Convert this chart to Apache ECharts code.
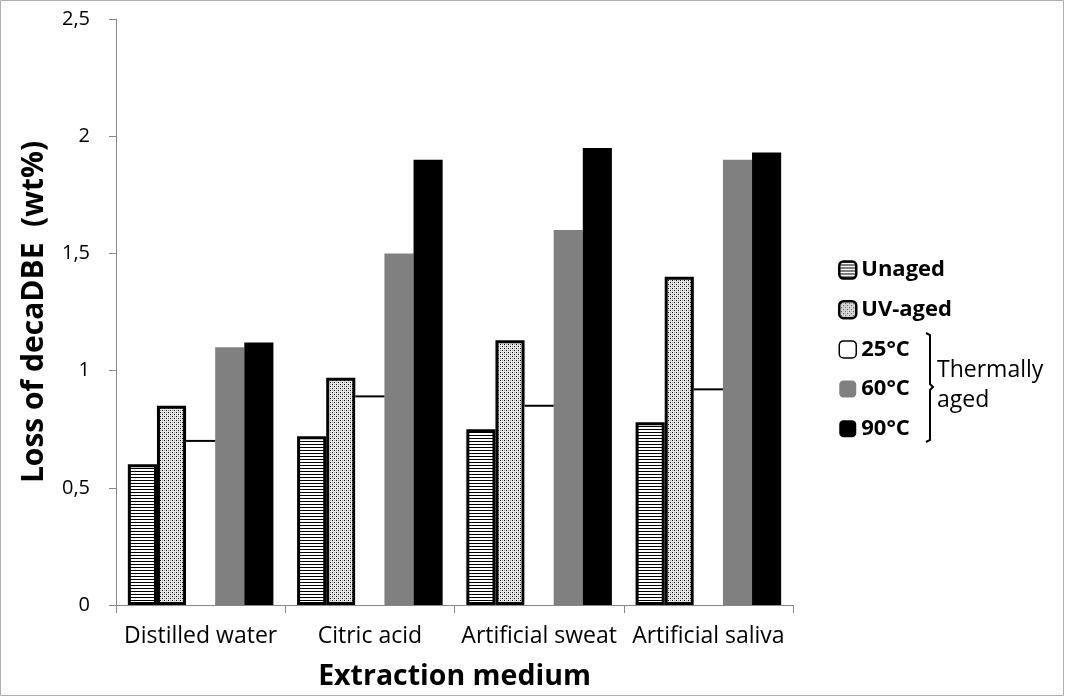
<!DOCTYPE html>
<html><head><meta charset="utf-8">
<script src="https://cdn.jsdelivr.net/npm/echarts@6/dist/echarts.min.js"></script>
<style>html,body{margin:0;padding:0;background:#fff}#c{width:1065px;height:697px}</style>
</head><body><div id="c"></div>
<script>
const categories = ['Distilled water', 'Citric acid', 'Artificial sweat', 'Artificial saliva'];
const unaged = [0.60, 0.72, 0.75, 0.78];
const uvAged = [0.85, 0.97, 1.13, 1.40];
const t25 = [0.70, 0.89, 0.85, 0.92];
const t60 = [1.10, 1.50, 1.60, 1.90];
const t90 = [1.12, 1.90, 1.95, 1.93];
const yTicks = [0, 0.5, 1, 1.5, 2, 2.5];

function makeStripe() {
  const c = document.createElement('canvas'); c.width = 4; c.height = 3;
  const g = c.getContext('2d');
  g.fillStyle = '#fff'; g.fillRect(0, 0, 4, 3);
  g.fillStyle = '#000'; g.fillRect(0, 0, 4, 1);
  return c;
}
function makeDots() {
  const c = document.createElement('canvas'); c.width = 4; c.height = 4;
  const g = c.getContext('2d');
  g.fillStyle = '#e8e8e8'; g.fillRect(0, 0, 4, 4);
  g.fillStyle = '#fff'; g.fillRect(1, 0, 1, 1); g.fillRect(3, 2, 1, 1);
  g.fillStyle = '#000'; g.fillRect(0, 0, 1, 1); g.fillRect(2, 2, 1, 1);
  g.fillStyle = '#999'; g.fillRect(2, 0, 1, 1); g.fillRect(0, 2, 1, 1);
  return c;
}
const stripe = { image: makeStripe(), repeat: 'repeat' };
const dots = { image: makeDots(), repeat: 'repeat' };

const GAP = 0.14;
const font = 'Open Sans';
const chart = echarts.init(document.getElementById('c'), null, { renderer: 'canvas' });
chart.setOption({
  animation: false,
  backgroundColor: '#fff',
  grid: { left: 116, right: 272, top: 19, bottom: 92 },
  xAxis: {
    type: 'category', data: categories,
    name: 'Extraction medium', nameLocation: 'middle', nameGap: 57,
    nameTextStyle: { fontFamily: font, fontWeight: 'bold', fontSize: 28.5, color: '#000' },
    axisLine: { lineStyle: { color: '#888', width: 1 } },
    axisTick: { show: true, length: 8, lineStyle: { color: '#888' } },
    axisLabel: { fontFamily: font, fontSize: 23, color: '#000', margin: 20, interval: 0 }
  },
  yAxis: {
    type: 'value', min: 0, max: 2.5, interval: 0.5,
    name: 'Loss of decaDBE  (wt%)', nameLocation: 'middle', nameGap: 67,
    nameTextStyle: { fontFamily: font, fontWeight: 'bold', fontSize: 30, color: '#000' },
    splitLine: { show: false },
    axisLine: { show: true, lineStyle: { color: '#888', width: 1 } },
    axisTick: { show: true, length: 7, lineStyle: { color: '#888' } },
    axisLabel: { fontFamily: font, fontSize: 20, color: '#000', margin: 26,
      formatter: v => yTicks.includes(v) ? String(v).replace('.', ',') : '' }
  },
  legend: {
    orient: 'vertical', left: 833, top: 254, itemWidth: 17, itemHeight: 17, itemGap: 17.7,
    textStyle: { fontFamily: font, fontWeight: 'bold', fontSize: 22, color: '#000' },
    data: [
      { name: 'Unaged', itemStyle: { borderColor: '#000', borderWidth: 2.5 } },
      { name: 'UV-aged', itemStyle: { borderColor: '#000', borderWidth: 2.5 } },
      { name: '25°C', itemStyle: { color: '#fff', borderColor: '#000', borderWidth: 1.5 } },
      { name: '60°C' },
      { name: '90°C' }
    ]
  },
  series: [
    { name: 'Unaged', type: 'bar', data: unaged, barGap: 0, barCategoryGap: (GAP * 100) + '%',
      itemStyle: { color: stripe, borderColor: '#000', borderWidth: 3 } },
    { name: 'UV-aged', type: 'bar', data: uvAged, barGap: 0,
      itemStyle: { color: dots, borderColor: '#000', borderWidth: 3 } },
    { name: '25°C', type: 'bar', data: t25, barGap: 0,
      itemStyle: { color: '#fff', borderWidth: 0 } },
    { name: '60°C', type: 'bar', data: t60, barGap: 0, itemStyle: { color: '#808080' } },
    { name: '90°C', type: 'bar', data: t90, barGap: 0, itemStyle: { color: '#000' } },
    { name: '25°C top', type: 'custom', data: t25.map((v, i) => [i, v]), z: 5,
      renderItem: (params, api) => {
        const p = api.coord([api.value(0), api.value(1)]);
        const bw = api.size([1, 0])[0] * (1 - GAP) / 5;
        return { type: 'line', shape: { x1: p[0] - bw / 2, y1: p[1], x2: p[0] + bw / 2, y2: p[1] },
          style: { stroke: '#000', lineWidth: 2 } };
      } }
  ],
  graphic: [
    { type: 'rect', shape: { x: 0.5, y: 0.5, width: 1063, height: 695 }, style: { fill: null, stroke: '#b0b0b0', lineWidth: 1 } },
    { type: 'polyline', shape: { points: [[926, 333], [930, 335], [930, 384], [933, 387], [930, 390], [930, 440], [926, 442]] },
      style: { fill: null, stroke: '#000', lineWidth: 2 } },
    { type: 'text', left: 937, top: 355, style: { text: 'Thermally\naged', fontFamily: font, fontSize: 23, lineHeight: 30, fill: '#000' } }
  ]
});
</script></body></html>
